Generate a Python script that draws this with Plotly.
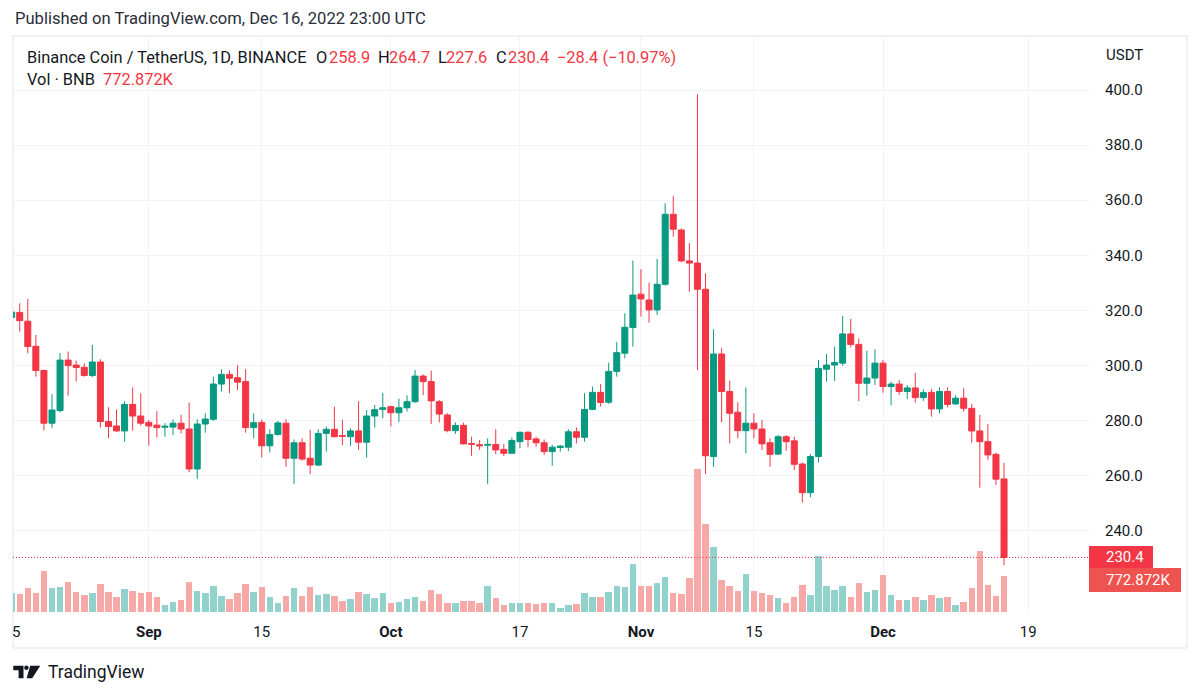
import plotly.graph_objects as go
import pandas as pd

# ---------------- data ----------------
dates = pd.date_range("2022-08-15", "2022-12-16", freq="D")

opens = [317.5, 319.3, 316.1, 307.0, 298.2, 279.1, 283.7, 302.0, 300.2, 299.4,
         296.4, 301.3, 279.7, 278.1, 276.3, 285.9, 281.7,
         279.4, 278.4, 277.6, 277.7, 279.1, 277.0, 262.5, 278.8, 280.5, 293.3,
         296.8, 295.6, 294.2, 277.5, 279.4, 270.9, 275.0, 279.1, 266.4, 272.0,
         266.4, 263.9, 275.4, 276.9, 274.6, 274.2, 276.3, 272.2, 281.7, 284.1,
         285.1, 282.9, 284.7, 286.9, 296.2, 294.2, 286.9, 282.1, 276.4, 278.3,
         271.7, 271.3, 271.1, 271.4, 269.6, 268.2, 272.4, 275.8, 273.4, 272.0,
         268.8, 270.3, 270.4, 276.0, 274.0, 284.1, 290.3, 286.7, 297.9, 304.5, 313.8,
         325.9, 323.8, 320.2, 329.5, 354.9, 349.2, 338.0, 337.2, 327.7, 267.0,
         304.2, 290.6, 283.1, 276.4, 279.1, 277.0, 272.0, 267.9, 274.2, 272.7,
         264.3, 253.9, 267.0, 298.7, 300.2, 300.9, 311.5, 307.7, 293.6, 295.5,
         300.9, 292.4, 293.3, 290.6, 291.9, 288.4, 290.3, 284.3, 290.6, 286.1,
         288.2, 284.5, 276.3, 272.4, 267.8, 258.9]

highs = [321.0, 322.6, 324.2, 311.1, 298.6, 289.7, 304.5, 305.1, 301.8, 300.8,
         307.5, 302.3, 284.9, 284.1, 287.1, 292.1, 290.0,
         280.3, 283.5, 279.1, 280.5, 282.1, 286.6, 280.5, 282.7, 296.0, 298.7,
         298.2, 300.2, 298.7, 282.7, 280.5, 276.9, 279.9, 280.5, 273.2, 273.6,
         276.6, 276.9, 277.9, 285.1, 280.3, 277.3, 287.1, 283.9, 285.7, 290.0,
         285.5, 288.0, 289.2, 298.4, 296.8, 298.2, 287.5, 282.7, 279.4, 279.3,
         274.2, 273.0, 273.6, 276.9, 271.6, 273.9, 276.0, 276.2, 274.2, 273.2,
         271.2, 271.1, 276.9, 277.6, 290.0, 292.4, 293.3, 301.1, 308.5, 319.0, 338.1,
         335.0, 330.1, 338.7, 358.9, 361.5, 349.8, 344.4, 398.5, 333.5, 313.2,
         306.3, 294.5, 286.7, 292.1, 282.7, 280.3, 273.6, 274.8, 274.8, 274.2,
         264.8, 267.9, 302.0, 304.2, 306.9, 318.0, 316.9, 309.9, 305.4, 305.9,
         302.0, 294.2, 294.8, 293.0, 297.4, 291.4, 291.5, 292.1, 292.1, 289.3,
         291.8, 286.1, 282.1, 278.8, 268.4, 264.7]

lows = [314.0, 312.3, 304.5, 296.0, 276.4, 277.3, 283.0, 289.1, 294.2, 296.0,
        295.8, 277.6, 273.6, 276.0, 272.4, 276.4, 278.2,
        270.9, 273.9, 274.2, 274.8, 275.4, 261.3, 258.9, 275.7, 280.0, 290.6,
        290.0, 291.2, 275.7, 273.6, 266.6, 268.5, 274.6, 263.3, 257.0, 265.5,
        260.7, 263.5, 268.8, 274.0, 271.2, 270.9, 269.4, 266.6, 277.5, 280.9,
        277.9, 279.5, 283.3, 286.5, 289.3, 278.8, 279.4, 275.8, 275.2, 271.4,
        267.3, 269.4, 257.0, 267.9, 267.2, 268.0, 270.0, 270.4, 270.6, 267.6,
        263.7, 268.8, 269.0, 271.8, 272.4, 283.8, 285.1, 286.1, 296.0, 302.6, 306.9,
        317.8, 315.6, 318.4, 329.0, 346.8, 337.5, 326.8, 298.4, 260.7, 263.3,
        279.4, 271.8, 273.6, 268.2, 273.6, 269.4, 263.3, 267.5, 269.1, 262.1,
        250.3, 252.2, 264.9, 294.2, 294.4, 300.0, 306.6, 287.1, 289.1, 293.0,
        290.2, 285.6, 289.3, 287.9, 286.6, 287.2, 281.5, 282.7, 284.9, 285.8,
        283.3, 272.0, 255.7, 265.8, 256.7, 227.6]

closes = [319.4, 316.3, 306.9, 298.2, 279.1, 283.9, 302.0, 300.0, 299.3, 296.4,
          301.3, 279.7, 277.9, 276.3, 285.9, 281.7, 279.1,
          278.1, 277.5, 278.0, 279.1, 277.0, 262.5, 278.8, 280.6, 293.3, 296.8,
          295.4, 294.0, 277.5, 279.3, 270.9, 275.0, 279.2, 266.4, 272.0, 266.1,
          263.9, 275.4, 276.9, 274.2, 274.4, 276.3, 272.2, 281.7, 284.0, 284.7,
          282.9, 284.7, 286.9, 296.2, 294.2, 287.2, 282.4, 276.4, 278.3, 271.6,
          271.5, 270.9, 271.4, 269.4, 268.2, 272.8, 275.8, 273.2, 272.0, 268.8,
          270.4, 270.8, 276.0, 274.0, 284.1, 290.3, 286.6, 297.9, 304.7, 313.9, 325.6,
          324.2, 320.2, 329.5, 354.9, 349.5, 338.0, 337.2, 327.7, 267.3, 304.2,
          290.6, 282.7, 276.4, 279.1, 277.0, 271.6, 267.8, 274.2, 272.4, 264.2,
          253.9, 267.0, 299.0, 300.2, 301.1, 311.5, 307.7, 293.6, 295.5, 300.9,
          292.4, 293.3, 290.6, 291.9, 288.4, 290.2, 284.3, 290.6, 285.9, 288.2,
          284.5, 276.3, 272.4, 267.6, 258.8, 230.4]

volumes_k = [420,
             389.5, 512, 418, 887, 527, 548, 656, 426, 361, 404,
             606, 426, 317, 498, 447, 411, 426, 325, 159, 209,
             267, 656, 454, 404, 563, 346, 281, 418, 599, 440,
             534, 332, 202, 346, 512, 346, 548, 375, 382, 346,
             231, 281, 426, 382, 310, 404, 202, 216, 288, 325,
             231, 469, 382, 202, 188, 231, 231, 188, 563, 310,
             159, 202, 202, 202, 173, 188, 202, 94, 144, 173,
             404, 317,
             317, 426, 555, 541, 1046,
             555, 570, 635, 757, 418, 397, 743, 3102, 1904, 1407,
             692, 555, 447, 822, 447, 418, 368, 296, 195, 325,
             592, 375, 1219, 555, 483, 570, 325, 620, 433, 483,
             808, 375, 252, 260, 317, 260, 375, 296, 325, 159,
             216, 519, 1320, 592, 353, 772.872]

tick_dates = ["2022-08-15", "2022-09-01", "2022-09-15", "2022-10-01", "2022-10-17",
              "2022-11-01", "2022-11-15", "2022-12-01", "2022-12-19"]
tick_text = ["15", "<b>Sep</b>", "15", "<b>Oct</b>", "17",
             "<b>Nov</b>", "15", "<b>Dec</b>", "19"]
price_ticks = [240, 260, 280, 300, 320, 340, 360, 380, 400]

# ---------------- style ----------------
UP = "#089981"
DOWN = "#F23645"
VOL_UP = "#92D2CC"
VOL_DOWN = "#F7A9A7"
TXT = "#131722"
GRID = "#F0F3FA"
FONT = "Roboto"
HDR = 16.4

W, H = 1200, 697
L, R, T, B = 13, 1089, 37, 612


def px(x):
    return (x - L) / (R - L)


def py(y):
    return (B - y) / (B - T)


vol_colors = [VOL_UP if c >= o else VOL_DOWN for o, c in zip(opens, closes)]

fig = go.Figure()

fig.add_trace(go.Candlestick(
    x=dates, open=opens, high=highs, low=lows, close=closes,
    increasing=dict(line=dict(color=UP, width=1), fillcolor=UP),
    decreasing=dict(line=dict(color=DOWN, width=1), fillcolor=DOWN),
    whiskerwidth=0, hoverinfo="skip", showlegend=False, yaxis="y",
))

fig.add_trace(go.Bar(
    x=dates, y=[v * 1000 for v in volumes_k], marker=dict(color=vol_colors, line=dict(width=0)),
    width=0.8 * 86400000, yaxis="y2", hoverinfo="skip", showlegend=False,
))

annotations = []


def txt(x, y, s, size=15, color=TXT, anchor="left"):
    annotations.append(dict(
        x=px(x), y=py(y), xref="paper", yref="paper", text=s, showarrow=False,
        xanchor=anchor, yanchor="middle", font=dict(family=FONT, size=size, color=color),
    ))


# top publishing line
txt(13, 19, "Published on TradingView.com, Dec 16, 2022 23:00 UTC", size=16.6, color="#2A2E39")

# legend line 1
txt(25, 57, "Binance Coin / TetherUS, 1D, BINANCE", size=HDR)
txt(314, 57, "O", size=HDR)
txt(327, 57, "258.9", size=HDR, color=DOWN)
txt(376, 57, "H", size=HDR)
txt(387, 57, "264.7", size=HDR, color=DOWN)
txt(436, 57, "L", size=HDR)
txt(444, 57, "227.6", size=HDR, color=DOWN)
txt(494, 57, "C", size=HDR)
txt(506, 57, "230.4", size=HDR, color=DOWN)
txt(555, 57, "\u221228.4 (\u221210.97%)", size=HDR, color=DOWN)
# legend line 2
txt(25, 80, "Vol \u00b7 BNB", size=HDR)
txt(101, 80, "772.872K", size=HDR, color=DOWN)

# price scale header
txt(1104, 55, "USDT", size=15)
# clipped first time label
txt(15.5, 632, "5", size=15, anchor="center")

# last price / volume labels
txt(1104, 557, "230.4", size=15, color="white")
txt(1104, 580, "772.872K", size=15, color="white")

# TradingView footer
txt(46, 672, "TradingView", size=17.5)

shapes = [
    # outer frame
    dict(type="rect", xref="paper", yref="paper", x0=px(13), x1=px(1187), y0=py(36), y1=py(648),
         line=dict(color="#E0E3EB", width=1), fillcolor="rgba(0,0,0,0)", layer="below"),
    # last price dotted line
    dict(type="line", xref="paper", yref="y", x0=0, x1=1, y0=closes[-1], y1=closes[-1],
         line=dict(color=DOWN, width=1, dash="1px,2px"), layer="above"),
    # label boxes
    dict(type="rect", xref="paper", yref="paper", x0=px(1089), x1=px(1153), y0=py(568), y1=py(546),
         fillcolor="#F23645", line=dict(width=0), layer="above"),
    dict(type="rect", xref="paper", yref="paper", x0=px(1089), x1=px(1181), y0=py(592), y1=py(568),
         fillcolor="#EF5350", line=dict(width=0), layer="above"),
]

# TradingView logo glyph
logo_T = [(13.3, 665.7), (23.5, 665.7), (23.5, 678.3), (18.6, 678.3), (18.6, 670.2), (13.3, 670.2)]
logo_V = [(30.2, 665.7), (40.2, 665.7), (32.2, 678.3), (26.6, 678.3)]
for poly in (logo_T, logo_V):
    path = "M " + " L ".join(f"{px(a):.5f},{py(b):.5f}" for a, b in poly) + " Z"
    shapes.append(dict(type="path", xref="paper", yref="paper", path=path,
                       fillcolor=TXT, line=dict(width=0), layer="above"))
shapes.append(dict(type="circle", xref="paper", yref="paper", x0=px(24.2), x1=px(28.6),
                   y0=py(670.0), y1=py(665.6), fillcolor=TXT, line=dict(width=0), layer="above"))

fig.update_layout(
    width=W, height=H,
    margin=dict(l=L, r=W - R, t=T, b=H - B, pad=0),
    paper_bgcolor="white", plot_bgcolor="white",
    showlegend=False,
    boxgap=0.255, boxgroupgap=0,
    bargap=0,
    font=dict(family=FONT, size=15, color=TXT),
    xaxis=dict(
        type="date", range=["2022-08-15 04:00", "2022-12-26 12:45"],
        tickvals=tick_dates, ticktext=tick_text, showgrid=True, gridcolor=GRID, gridwidth=1,
        ticks="", showline=False, zeroline=False, rangeslider=dict(visible=False),
        tickfont=dict(family=FONT, size=15, color=TXT), ticklabelstandoff=9,
        fixedrange=True,
    ),
    yaxis=dict(
        side="right", range=[210.60, 419.23], tickvals=price_ticks,
        ticktext=[f"{v:.1f}" for v in price_ticks],
        showgrid=True, gridcolor=GRID, gridwidth=1, ticks="", showline=False, zeroline=False,
        tickfont=dict(family=FONT, size=15, color=TXT), ticklabelstandoff=15,
    ),
    yaxis2=dict(overlaying="y", range=[0, 12.443e6], visible=False, showgrid=False),
    annotations=annotations,
    shapes=shapes,
)

fig.write_html("out.html")
